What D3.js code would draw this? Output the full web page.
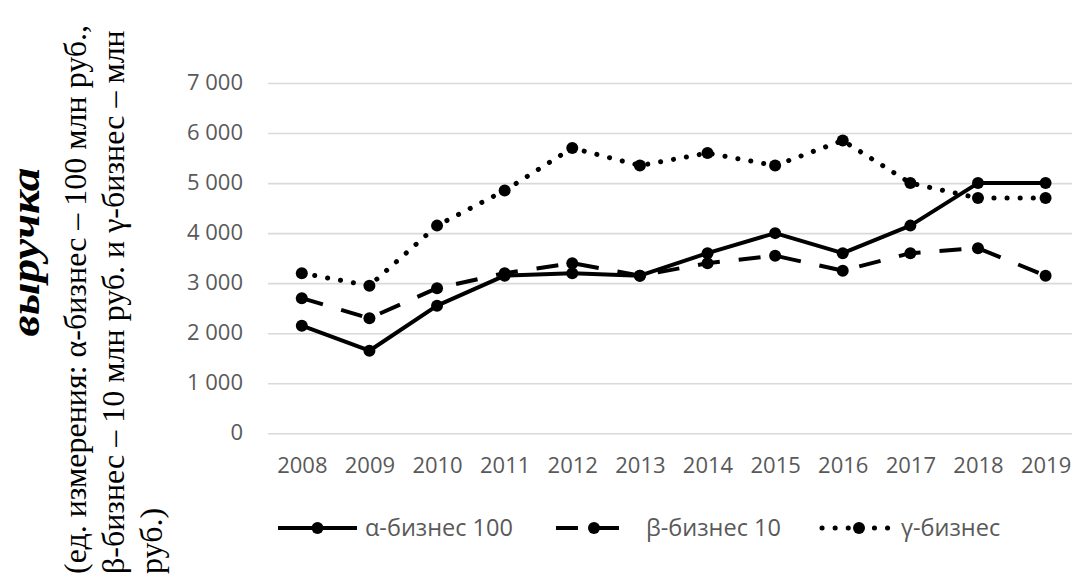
<!DOCTYPE html>
<html>
<head>
<meta charset="utf-8">
<script src="https://cdn.jsdelivr.net/npm/d3@7"></script>
<style>
  html, body { margin: 0; padding: 0; background: #fff; }
  svg { display: block; }
</style>
</head>
<body>
<div id="chart"></div>
<script>
// Values
const years = ["2008", "2009", "2010", "2011", "2012", "2013", "2014", "2015", "2016", "2017", "2018", "2019"];
const alphaValues = [2150, 1650, 2550, 3150, 3200, 3150, 3600, 4000, 3600, 4150, 5000, 5000];
const betaValues = [2700, 2300, 2900, 3200, 3400, 3150, 3400, 3550, 3250, 3600, 3700, 3150];
const gammaValues = [3200, 2950, 4150, 4850, 5700, 5350, 5600, 5350, 5850, 5000, 4700, 4700];
const yTicks = [0, 1000, 2000, 3000, 4000, 5000, 6000, 7000];
const seriesNames = ["α-бизнес 100", "β-бизнес 10", "γ-бизнес"];
const titleText = "выручка";
const subtitleLines = [
  "(ед. измерения: α-бизнес – 100 млн руб.,",
  "β-бизнес – 10 млн руб. и γ-бизнес – млн",
  "руб.)"
];

/** svg properties */
const svgProps = {};
svgProps.outerWidth = 1072;
svgProps.outerHeight = 577;
svgProps.plot = { left: 268, right: 1079.4, top: 83, bottom: 433.3 };

const series = [
  { name: seriesNames[0], values: alphaValues, dash: null, width: 4 },
  { name: seriesNames[1], values: betaValues, dash: "22,19", width: 4 },
  { name: seriesNames[2], values: gammaValues, dash: "0.1,13", width: 5, cap: "round" }
];

const svg = d3.select("#chart")
  .append("svg")
  .attr("width", svgProps.outerWidth)
  .attr("height", svgProps.outerHeight)
;

/** Scales */
const xScale = d3.scalePoint()
  .domain(years)
  .range([svgProps.plot.left, svgProps.plot.right])
  .padding(0.5)
;

const yScale = d3.scaleLinear()
  .domain([0, 7000])
  .range([svgProps.plot.bottom, svgProps.plot.top])
;

const fmt = d => d3.format(",")(d).replace(/,/g, " ");

/** Gridlines + y labels */
const yAxis = d3.axisLeft(yScale)
  .tickValues(yTicks)
  .tickSize(-(svgProps.plot.right - svgProps.plot.left))
  .tickPadding(25)
  .tickFormat(fmt)
;

svg.append("g")
  .attr("id", "y-axis")
  .attr("transform", "translate(" + svgProps.plot.left + ",0)")
  .call(yAxis)
  .call(g => g.select(".domain").remove())
  .call(g => g.selectAll(".tick line").attr("stroke", "#d9d9d9").attr("stroke-width", 1.6))
  .call(g => g.selectAll(".tick text")
    .attr("fill", "#595959")
    .attr("dy", "0.3em")
    .style("font-family", "'Open Sans', sans-serif")
    .style("font-size", "22px"))
;

/** x labels */
const xAxis = d3.axisBottom(xScale).tickSize(0).tickPadding(24);

svg.append("g")
  .attr("id", "x-axis")
  .attr("transform", "translate(0," + svgProps.plot.bottom + ")")
  .call(xAxis)
  .call(g => g.select(".domain").remove())
  .call(g => g.selectAll(".tick text")
    .attr("fill", "#595959")
    .style("font-family", "'Open Sans', sans-serif")
    .style("font-size", "22px"))
;

/** Lines */
const line = d3.line()
  .x((d, i) => xScale(years[i]))
  .y(d => yScale(d))
;

const lines = svg.append("g").attr("id", "lines");

series.forEach(s => {
  lines.append("path")
    .datum(s.values)
    .attr("fill", "none")
    .attr("stroke", "#000")
    .attr("stroke-width", s.width)
    .attr("stroke-linecap", s.cap || "butt")
    .attr("stroke-linejoin", "round")
    .attr("stroke-dasharray", s.dash)
    .attr("d", line)
  ;
  lines.selectAll(null)
    .data(s.values)
    .enter()
    .append("circle")
    .attr("cx", (d, i) => xScale(years[i]))
    .attr("cy", d => yScale(d))
    .attr("r", 6)
    .attr("fill", "#000")
  ;
});

/** Legend */
const legendY = 528;
const legendItems = [
  { x0: 278, x1: 357, tx: 365 },
  { x0: 556, x1: 632, tx: 646 },
  { x0: 822, x1: 896, tx: 901 }
];

const legend = svg.append("g").attr("id", "legend");

series.forEach((s, i) => {
  const item = legendItems[i];
  const g = legend.append("g");
  g.append("line")
    .attr("x1", item.x0)
    .attr("x2", item.x1)
    .attr("y1", legendY)
    .attr("y2", legendY)
    .attr("stroke", "#000")
    .attr("stroke-width", s.width)
    .attr("stroke-linecap", s.cap || "butt")
    .attr("stroke-dasharray", s.dash)
  ;
  g.append("circle")
    .attr("cx", (item.x0 + item.x1) / 2)
    .attr("cy", legendY)
    .attr("r", 6)
    .attr("fill", "#000")
  ;
  g.append("text")
    .attr("x", item.tx)
    .attr("y", legendY)
    .attr("dy", "0.35em")
    .attr("fill", "#595959")
    .style("font-family", "'Open Sans', sans-serif")
    .style("font-size", "23.5px")
    .text(s.name)
  ;
});

/** Rotated axis title (stretched along its length like the source) */
svg.append("text")
  .attr("id", "title")
  .attr("transform", "translate(39,252) rotate(-90) scale(1.18,1)")
  .attr("text-anchor", "middle")
  .attr("fill", "#000")
  .style("font-family", "'Liberation Serif', 'Times New Roman', serif")
  .style("font-weight", "bold")
  .style("font-style", "italic")
  .style("font-size", "40px")
  .text(titleText)
;

const sub = svg.append("g").attr("id", "subtitle");
subtitleLines.forEach((t, i) => {
  sub.append("text")
    .attr("transform", "translate(" + (86 + i * 38) + ",574) rotate(-90)")
    .attr("text-anchor", "start")
    .attr("fill", "#000")
    .style("font-family", "'Liberation Serif', 'Times New Roman', serif")
    .style("font-size", "32px")
    .text(t)
  ;
});
</script>
</body>
</html>
